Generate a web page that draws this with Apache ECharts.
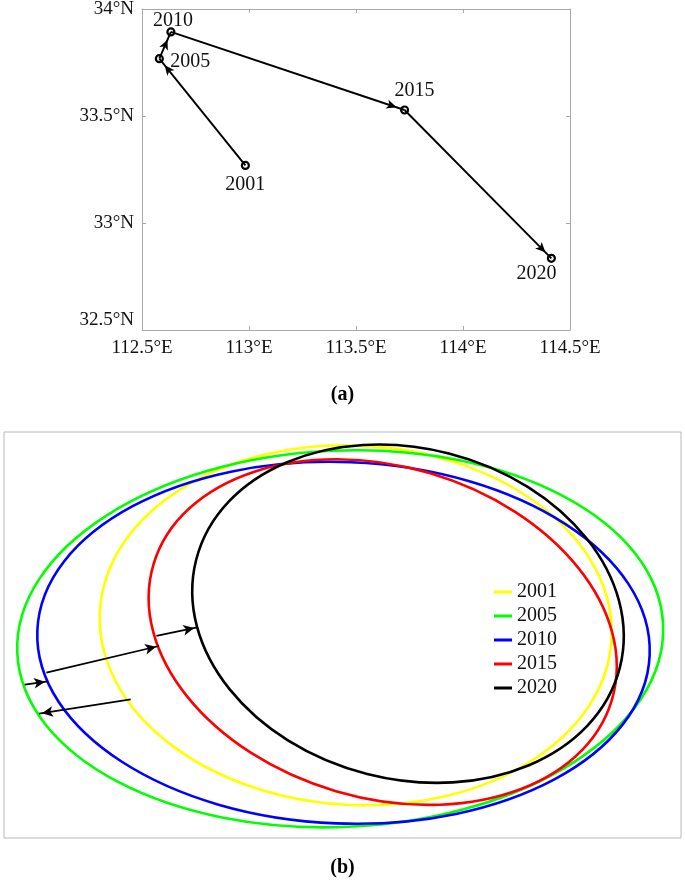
<!DOCTYPE html>
<html>
<head>
<meta charset="utf-8">
<script src="https://cdn.jsdelivr.net/npm/echarts@6/dist/echarts.min.js"></script>
<style>
html,body{margin:0;padding:0;background:#fff;}
#chart{width:685px;height:891px;}
</style>
</head>
<body>
<div id="chart"></div>
<script>
var years = ['2001', '2005', '2010', '2015', '2020'];
// (a) centre of gravity per year
var centreLon = [112.983, 112.581, 112.635, 113.727, 114.413];
var centreLat = [33.269, 33.768, 33.893, 33.528, 32.835];
var lonTicks = [112.5, 113, 113.5, 114, 114.5];
var latTicks = [32.5, 33, 33.5, 34];
// (b) standard deviational ellipses (relative units): centre, semi axes, angle in degrees
var ellX = [351.7, 336.2, 339.5, 378.7, 404.0];
var ellY = [212.7, 199.2, 195.2, 205.9, 224.3];
var ellA = [256.2, 323.2, 306.4, 239.0, 218.6];
var ellB = [179.7, 188.2, 180.7, 165.8, 165.4];
var ellAngle = [-3.1, 2.5, -2.3, -16.4, -14.3];
// (b) shift arrows, 2001->2005, 2005->2010, 2010->2015, 2015->2020
var shiftFrom = [[126.7, 138.7], [20.7, 153.4], [42.4, 165.4], [152.4, 202.2]];
var shiftTo = [[35.0, 124.4], [44.0, 156.7], [155.0, 192.0], [193.2, 210.7]];

var colors = ['#ffff00', '#00ff00', '#0000ff', '#ff0000', '#000000'];
var serif = "'Liberation Serif', 'Times New Roman', serif";

var myChart = echarts.init(document.getElementById('chart'));

var points = years.map(function (y, i) {
    return [centreLon[i], centreLat[i], y];
});
var track = [];
for (var i = 1; i < years.length; i++) {
    track.push([{coord: [centreLon[i - 1], centreLat[i - 1]]}, {coord: [centreLon[i], centreLat[i]]}]);
}
var shifts = shiftFrom.map(function (p, i) {
    return [{coord: p}, {coord: shiftTo[i]}];
});

// where each year label sits around its point
var labelOffset = {
    '2001': [0, 19],
    '2005': [31, 3],
    '2010': [2, -11],
    '2015': [10, -19],
    '2020': [-15, 15]
};

var axisGray = '#a9a9a9';
function frameAxis(extra) {
    return echarts.util.extend({
        type: 'value',
        gridIndex: 0,
        axisLine: {show: true, lineStyle: {color: axisGray, width: 1}},
        axisTick: {show: true, inside: true, length: 4, lineStyle: {color: axisGray}},
        splitLine: {show: false},
        axisLabel: {show: false}
    }, extra);
}

function arrowHost(xi, yi, pairs, size, back, width) {
    return {
        type: 'line',
        xAxisIndex: xi,
        yAxisIndex: yi,
        data: [],
        z: 3,
        markLine: {
            silent: true,
            animation: false,
            symbol: ['none', 'arrow'],
            symbolSize: size,
            symbolOffset: [[0, 0], [0, back]],
            label: {show: false},
            lineStyle: {type: 'solid', color: '#000', width: width, opacity: 1},
            emphasis: {disabled: true},
            data: pairs
        }
    };
}

var ellipseSeries = years.map(function (y, i) {
    return {
        type: 'custom',
        name: y,
        coordinateSystem: 'cartesian2d',
        xAxisIndex: 2,
        yAxisIndex: 2,
        itemStyle: {color: colors[i]},
        encode: {x: 0, y: 1},
        data: [[ellX[i], ellY[i], ellA[i], ellB[i], ellAngle[i]]],
        renderItem: function (params, api) {
            var c = api.coord([api.value(0), api.value(1)]);
            var s = api.size([api.value(2), api.value(3)]);
            return {
                type: 'ellipse',
                x: c[0],
                y: c[1],
                rotation: api.value(4) * Math.PI / 180,
                shape: {cx: 0, cy: 0, rx: s[0], ry: s[1]},
                style: {fill: 'none', stroke: colors[i], lineWidth: 2.6}
            };
        },
        z: 2
    };
});

var option = {
    backgroundColor: '#fff',
    animation: false,
    title: [
        {text: '(a)', left: 'center', top: 385, padding: 0,
         textStyle: {fontFamily: serif, fontWeight: 'bold', fontSize: 20, color: '#000'}},
        {text: '(b)', left: 'center', top: 858, padding: 0,
         textStyle: {fontFamily: serif, fontWeight: 'bold', fontSize: 20, color: '#000'}}
    ],
    grid: [
        {left: 142, top: 9, width: 428, height: 321, containLabel: false, outerBoundsMode: 'none'},
        {left: 4, top: 432, width: 677, height: 406, containLabel: false, outerBoundsMode: 'none',
         show: true, borderColor: '#b8b8b8', borderWidth: 1}
    ],
    legend: {
        data: years,
        orient: 'vertical',
        left: 489,
        top: 577,
        icon: 'rect',
        itemWidth: 18,
        itemHeight: 3,
        itemGap: 4,
        selectedMode: false,
        textStyle: {fontFamily: serif, fontSize: 20, color: '#111'}
    },
    xAxis: [
        frameAxis({
            min: lonTicks[0], max: lonTicks[lonTicks.length - 1], interval: 0.5, position: 'bottom',
            axisLabel: {show: true, margin: 9, color: '#111', fontFamily: serif, fontSize: 19,
                        formatter: function (v) { return v + '°E'; }}
        }),
        frameAxis({min: lonTicks[0], max: lonTicks[lonTicks.length - 1], interval: 0.5, position: 'top'}),
        {type: 'value', gridIndex: 1, min: 0, max: 677, show: false}
    ],
    yAxis: [
        frameAxis({
            min: latTicks[0], max: latTicks[latTicks.length - 1], interval: 0.5, position: 'left',
            axisLabel: {show: true, margin: 8, color: '#111', fontFamily: serif, fontSize: 19,
                        verticalAlignMinLabel: 'bottom',
                        formatter: function (v) { return v + '°N'; }}
        }),
        frameAxis({min: latTicks[0], max: latTicks[latTicks.length - 1], interval: 0.5, position: 'right'}),
        {type: 'value', gridIndex: 1, min: 0, max: 406, show: false}
    ],
    series: [
        arrowHost(0, 0, track, [7, 10], 8.5, 1.9),
        {
            type: 'scatter',
            xAxisIndex: 0,
            yAxisIndex: 0,
            symbol: 'circle',
            symbolSize: 7,
            itemStyle: {color: '#fff', borderColor: '#000', borderWidth: 2.2, opacity: 1},
            label: {
                show: true,
                position: 'inside',
                fontFamily: serif,
                fontSize: 20,
                color: '#111',
                formatter: function (p) { return p.value[2]; }
            },
            data: points.map(function (p) {
                return {value: p, label: {offset: labelOffset[p[2]]}};
            }),
            z: 4
        }
    ].concat(ellipseSeries, [
        arrowHost(2, 2, shifts, [8, 11], 3, 1.7)
    ])
};

myChart.setOption(option);
</script>
</body>
</html>
